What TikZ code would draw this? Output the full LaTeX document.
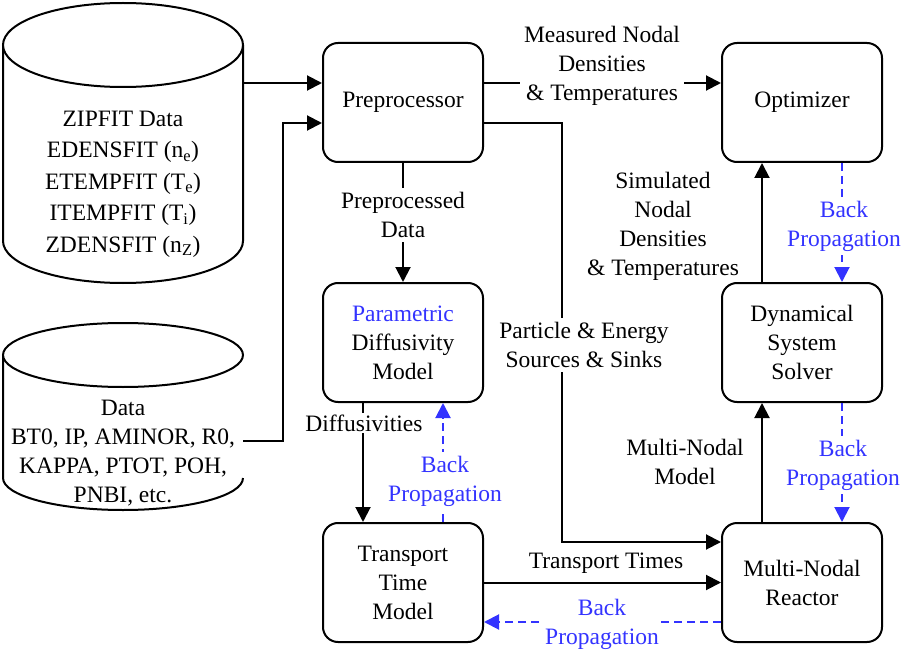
\documentclass[tikz,border=0pt]{standalone}
\usepackage{fontspec}
\setmainfont{Liberation Serif}
\usetikzlibrary{arrows.meta}
\definecolor{bp}{HTML}{3333FF}
\begin{document}
\begin{tikzpicture}[x=1pt,y=-1pt,
  every node/.style={font=\rmfamily\fontsize{23.5pt}{29pt}\selectfont, align=center},
  box/.style={draw, line width=2pt, rounded corners=15pt, minimum width=160pt, minimum height=119pt, inner sep=0pt},
  arr/.style={line width=2pt, -{Triangle[length=15pt,width=15pt]}},
  darr/.style={line width=2pt, bp, dash pattern=on 8pt off 5pt, -{Triangle[length=15pt,width=15pt]}},
  lbl/.style={fill=white, inner sep=4pt},
  blbl/.style={fill=white, inner sep=4pt, text=bp},
  cyl/.style={draw, line width=2pt, fill=white}]
\useasboundingbox (0,0) rectangle (903,658);
% cylinders
\draw[cyl] (3,45) -- (3,241) arc[start angle=180, end angle=360, x radius=120, y radius=-42] -- (243,45);
\draw[cyl] (123,45) ellipse[x radius=120, y radius=42];
\draw[cyl] (3,355) -- (3,478) arc[start angle=180, end angle=360, x radius=120, y radius=-32] -- (243,478);
\draw[cyl] (123,355) ellipse[x radius=120, y radius=32];
\node (zip) at (123,184) [font=\rmfamily\fontsize{23.5pt}{31.5pt}\selectfont] {ZIPFIT Data\\EDENSFIT (n\textsubscript{e})\\ETEMPFIT (T\textsubscript{e})\\ITEMPFIT (T\textsubscript{i})\\ZDENSFIT (n\textsubscript{Z})};
\node (dat) at (123,453) {Data\\BT0, IP, AMINOR, R0,\\KAPPA, PTOT, POH,\\PNBI, etc.};
\coordinate (c1e) at (243,83);
\coordinate (c2e) at (243,441);
\coordinate (c2k) at (283,441);
\coordinate (psk) at (562,300);
% boxes
\node[box] (pre) at (403,102.5) {Preprocessor};
\node[box] (par) at (403,342.5) {\textcolor{bp}{Parametric}\\Diffusivity\\Model};
\node[box] (ttm) at (403,582.5) {Transport\\Time\\Model};
\node[box] (opt) at (802,102.5) {Optimizer};
\node[box] (dss) at (802,342.5) {Dynamical\\System\\Solver};
\node[box] (mnr) at (802,582.5) {Multi-Nodal\\Reactor};
% connectors
\draw[arr] (c1e) -- (c1e -| pre.west);
\draw[arr] (c2e) -- (c2k) |- ([yshift=-20.5pt]pre.west);
\draw[arr] ([yshift=19.5pt]pre.east) -- ([yshift=19.5pt]opt.west);
\draw[arr] ([yshift=-20.5pt]pre.east) -| (psk) |- ([yshift=40.5pt]mnr.west);
\draw[arr] (pre.south) -- (par.north);
\draw[arr] ([xshift=-40pt]par.south) -- ([xshift=-40pt]ttm.north);
\draw[darr] ([xshift=40pt]ttm.north) -- ([xshift=40pt]par.south);
\draw[arr] (ttm.east) -- (mnr.west);
\draw[darr] ([yshift=-39.5pt]mnr.west) -- ([yshift=-39.5pt]ttm.east);
\draw[arr] ([xshift=-40pt]mnr.north) -- ([xshift=-40pt]dss.south);
\draw[darr] ([xshift=40pt]dss.south) -- ([xshift=40pt]mnr.north);
\draw[arr] ([xshift=-40pt]dss.north) -- ([xshift=-40pt]opt.south);
\draw[darr] ([xshift=40pt]opt.south) -- ([xshift=40pt]dss.north);
% labels
\node[lbl] (lmeas) at (602,65.5) {Measured Nodal\\Densities\\\& Temperatures};
\node[lbl] (lpre) at (403,215) {Preprocessed\\Data};
\node[lbl] (lpart) at (584,345) {Particle \& Energy\\Sources \& Sinks};
\node[lbl, inner sep=2pt] (ldif) at (364,423) {Diffusivities};
\node[blbl] (lbp1) at (445,481) {Back\\Propagation};
\node (ltt) at (606,563) {Transport Times};
\node[blbl, inner sep=2pt] (lbp2) at (602,624.5) {Back\\Propagation};
\node (lmnm) at (685,462) {Multi-Nodal\\Model};
\node[blbl] (lbp3) at (843,465) {Back\\Propagation};
\node (lsim) at (663,226) {Simulated\\Nodal\\Densities\\\& Temperatures};
\node[blbl] (lbp4) at (844,226) {Back\\Propagation};
\end{tikzpicture}
\end{document}
